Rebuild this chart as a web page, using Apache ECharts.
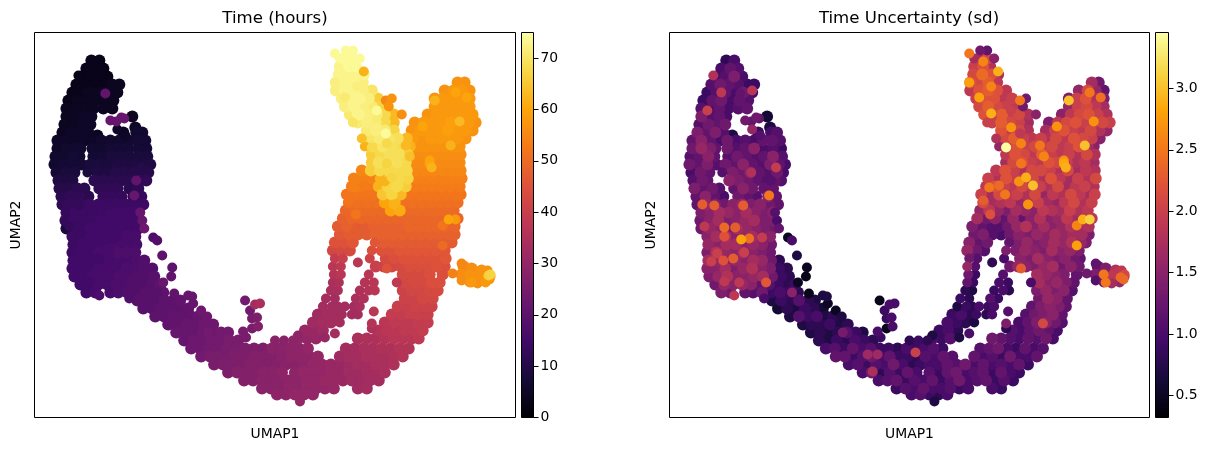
<!DOCTYPE html>
<html>
<head>
<meta charset="utf-8">
<style>html,body{margin:0;padding:0;background:#fff}#chart{width:1209px;height:451px}</style>
<script src="https://cdn.jsdelivr.net/npm/echarts@6/dist/echarts.min.js"></script>
</head>
<body>
<div id="chart"></div>
<script>
// Embedding of single cells. Every row: UMAP1, UMAP2, time (hours), time uncertainty (sd).
const earlyLobe = [
[57,357,3,.8],[65,357,3,1],
[52,349,3,1],[61,349,3,1.2],[69,349,3,1.1],
[47,341,3,1],[56,341,3,1.1],[65,341,3,1.4],[73,341,3,1],
[42,333,3,1.1],[51,333,3,1.3],[60,333,3,1.2],[69,333,3,1.1],[78,333,4,.9],[85,333,4,.9],
[38,325,3,.9],[47,325,3,1.1],[56,325,4,1.2],[65,325,4,1],[74,325,4,1.3],[83,325,4,1],
[34,317,3,.9],[43,317,4,1.2],[52,317,4,1.3],[61,317,4,1],[70,317,4,1.2],[79,317,4,1.1],
[32,309,4,1.1],[41,309,4,1],[50,309,4,1.2],[59,309,4,1],[69,309,4,1.1],[78,309,4,1.2],
[32,301,4,1.4],[41,301,4,1.1],[50,301,5,1.2],[57,301,5,1],[98,301,4,.6],
[30,293,4,1.1],[39,293,4,1.3],[48,293,5,1.2],[56,293,5,1.3],[101,290,5,.7],
[28,285,4,1.4],[37,285,5,1.2],[46,285,5,1.4],[54,285,5,1.1],[89,285,4,.9],[102,285,6,1],[108,285,6,1.1],[63,282,4,.7],
[23,277,5,1.2],[32,277,5,1.5],[41,277,5,1.2],[50,277,5,1],[58,277,5,1.3],[67,277,6,1],[76,277,6,1.1],[85,277,6,1],[94,277,6,1.2],[103,277,7,1.2],[111,277,7,1.1],
[23,269,5,1.3],[32,269,6,1.6],[41,269,6,1.4],[46,269,6,1.2],[58,269,6,1.3],[67,269,6,1.1],[76,269,7,1.2],[85,269,7,1.5],[94,269,7,1],[104,269,7,1.1],[112,269,7,.9],
[21,261,6,1.1],[30,261,6,1.2],[39,261,7,1.5],[45,261,6,1.2],[59,261,7,1.1],[68,261,7,1.3],[77,261,8,1.2],[86,261,8,1.1],[95,261,8,1.2],[104,261,8,1.5],[113,261,8,1.1],
[20,253,6,1.3],[29,253,7,1.2],[38,253,7,1.4],[47,253,7,1.1],[56,253,8,1.3],[65,253,8,1.2],[74,253,8,1.5],[83,253,9,1.2],[92,253,9,1.1],[101,253,9,1.4],[110,253,9,1.2],[116,253,9,1],
[22,245,7,1],[31,245,8,1.3],[40,245,8,1.2],[63,245,9,1.4],[72,245,9,1.3],[81,245,10,1.5],[90,245,10,1.2],[99,245,10,1.1],[108,245,10,1.3],[114,245,10,1],
[24,237,9,1.1],[33,237,9,1.3],[38,237,9,1.2],[60,237,11,1.5],[69,237,11,1.4],[78,237,11,1.3],[87,237,11,1.2],[97,237,11,1.1],[106,237,12,1.2],[112,237,12,1.1],
[25,229,10,1.4],[34,229,10,1.2],[43,229,11,1.3],[50,229,11,1.1],[65,229,12,1.2],[74,229,12,1.5],[83,229,12,1.3],[95,229,11,1.2],[104,229,12,1.2],
[27,221,11,1.2],[36,221,12,1.5],[45,221,12,1.2],[54,221,11,1],[69,221,13,1.3],[78,221,13,1.2],[87,221,13,1.1],[99,221,12,1.5],[107,221,13,1.2]
];
const midCluster = [
[28,213,12,1.2],[37,213,13,1.6],[46,213,13,1.4],[55,213,14,1.3],[64,213,14,1.5],[73,213,14,1.6],[82,213,14,1.4],[91,213,14,1.5],[100,213,14,1.3],[109,213,14,1.2],
[32,205,13,1.4],[41,205,14,1.5],[50,205,14,1.7],[59,205,14,1.6],[68,205,14,1.5],[77,205,15,1.7],[86,205,15,1.5],[95,205,15,1.4],[104,205,15,1.5],
[31,197,13,1.3],[40,197,14,1.5],[49,197,14,1.7],[58,197,14,1.4],[67,197,15,1.5],[76,197,15,1.6],[85,197,15,1.7],[94,197,15,1.4],[103,197,15,1.4],
[32,189,8,1.3],[41,189,14,1.6],[50,189,14,1.5],[59,189,15,1.4],[68,189,15,1.7],[77,189,15,1.6],[86,189,15,1.5],[95,189,15,1.4],[104,189,15,1.3],
[38,181,14,1.5],[47,181,14,1.7],[56,181,15,1.8],[65,181,15,1.5],[74,181,15,1.6],[83,181,15,1.7],[92,181,16,1.4],[101,181,16,1.5],
[39,173,14,1.6],[48,173,15,1.5],[57,173,15,1.7],[66,173,15,1.7],[75,173,16,1.5],[84,173,16,1.6],[93,173,16,1.5],[102,173,16,1.3],
[38,165,14,1.4],[47,165,15,1.8],[56,165,15,1.6],[65,165,16,1.5],[74,165,16,1.7],[83,165,17,1.5],[92,165,17,1.4],[101,165,17,1.3],
[39,157,15,1.7],[48,157,15,1.6],[57,157,15,1.5],[66,157,15,1.6],[75,157,16,1.5],[84,157,16,1.7],[93,157,16,1.6],[102,157,17,1.3],[110,157,18,.8],
[38,149,15,1.5],[47,149,15,1.5],[56,149,15,1.7],[65,149,16,1.4],[74,149,16,1.6],[83,149,16,1.8],[92,149,17,1.5],[101,149,17,1.4],[110,149,18,.9],[118,149,18,.8],
[40,141,15,1.4],[49,141,15,1.6],[58,141,16,1.8],[67,141,16,1.5],[76,141,16,1.5],[85,141,17,1.6],[94,141,17,1.7],[103,141,18,1.3],[112,141,18,.9],[120,141,19,.8],
[46,133,15,1.3],[55,133,15,1.6],[64,133,16,1.5],[73,133,16,1.6],[82,133,17,1.5],[91,133,17,1.2],[100,133,18,1.1],[109,133,18,.9],[118,133,19,.8],[126,133,20,.9],
[52,125,15,1.4],[61,125,16,1.3],[76,125,16,1.2],[84,125,17,1.1],[93,125,18,1.3],[102,125,18,.9],[111,125,19,1],[120,125,19,.9],[129,125,20,.8]
];
const lowerArm = [
[103,117,19,.7],[112,117,19,.9],[121,117,19,.8],[130,117,20,1.1],[139,117,20,.8],[146,117,21,.7],
[109,109,19,.6],[118,109,19,.8],[127,109,20,.7],[136,109,20,.9],[145,109,20,.8],[154,109,21,.6],
[121,101,20,.7],[130,101,20,1.1],[139,101,21,.9],[148,101,21,1],[157,101,21,.7],[164,101,22,.8],
[134,93,21,.7],[143,93,21,.8],[152,93,22,.8],[161,93,22,.9],[170,93,23,.7],[179,93,23,.8],
[142,85,22,.7],[151,85,22,.8],[160,85,22,.7],[169,85,23,.8],[178,85,23,1.1],[187,85,24,.9],[194,85,24,.7],
[150,77,22,.8],[159,77,23,.7],[168,77,23,.9],[177,77,24,.8],[186,77,24,1],[195,77,25,.9],[204,77,25,.8],
[157,69,23,1],[166,69,23,1.1],[175,69,24,.9],[184,69,24,1.2],[193,69,25,1],[202,69,25,1.1],[211,69,26,.9],[220,69,26,.9],[229,69,26,.8],
[167,61,24,1.2],[176,61,25,1.2],[185,61,25,.9],[194,61,25,1.1],[203,61,26,1.3],[212,61,26,1],[221,61,27,1.2],[230,61,27,.9],[239,61,27,.9],[248,61,28,.8],
[180,53,25,1],[189,53,26,1.1],[198,53,26,.9],[207,53,26,1.1],[216,53,27,1],[225,53,27,1.3],[234,53,27,1],[243,53,27,.8],[252,53,28,.9],[261,53,28,1]
];
const bottomBand = [
[238,69,28,1],[247,69,28,.9],[256,69,29,1],[265,69,29,1.1],[274,69,30,.9],
[312,69,33,1.1],[321,69,33,1.2],[330,69,34,1.3],[339,69,34,1],[348,69,35,.9],[357,69,35,1.2],[366,69,36,1],[375,69,36,1.1],
[257,61,29,1.1],[266,61,29,1],[275,61,29,1.2],[284,61,30,1.1],[306,61,32,1.2],[315,61,33,1],[324,61,33,1.1],[333,61,34,.9],[342,61,34,1.3],[351,61,34,1],[360,61,35,1],[369,61,36,1.2],
[270,53,29,1],[279,53,30,1.2],[288,53,30,1.1],[297,53,31,1.3],[306,53,31,1],[315,53,32,1.2],[324,53,33,1],[333,53,33,1.1],[342,53,34,1],[351,53,34,1.2],[360,53,35,.9],
[194,45,26,1],[203,45,27,1.3],[212,45,27,.8],[221,45,27,1.1],[230,45,28,.9],[239,45,28,1.2],[248,45,29,1],[261,45,29,1.1],[270,45,30,.9],[279,45,30,1.2],[288,45,30,1.3],[297,45,31,1],[306,45,31,1.1],[315,45,32,1.2],[324,45,32,.9],[333,45,33,1.2],[342,45,33,1],[351,45,34,.9],
[210,37,27,1],[219,37,27,1.1],[228,37,28,1.2],[237,37,28,.9],[246,37,28,1.1],[255,37,29,1],[264,37,29,1.2],[273,37,30,.9],[282,37,30,1.1],[291,37,31,1.3],[300,37,31,1],[309,37,31,1.1],[318,37,32,1.2],[327,37,32,.9],[336,37,33,1.1],[345,37,33,.9],
[228,29,28,.9],[237,29,28,1.1],[246,29,28,1],[255,29,29,1.2],[264,29,29,1],[273,29,30,1],[282,29,30,1.1],[291,29,30,.9],[300,29,31,1],[324,29,32,1],[333,29,33,.9],
[243,23,29,1],[252,23,29,1.1],[261,23,30,.9],[270,23,30,.8],[279,23,30,1],
[264,79,30,1],[273,79,30,.9],[282,79,31,1.1],[324,79,34,1.3],[333,79,35,1.2],[342,79,35,1.1],[351,79,36,1],[360,79,37,1.2],[369,79,37,1.1],[378,79,37,1.3],[385,79,38,1],
[271,87,31,.9],[280,87,31,1],[289,87,32,.8],[344,87,36,1.1],[353,87,37,1],[362,87,37,1.2],[371,87,38,1.3],[380,87,38,1.2],[389,87,39,1],
[279,95,32,1],[288,95,33,.9],[297,95,33,.8],[351,95,37,1],[360,95,38,1.2],[369,95,38,1.4],[378,95,39,1.5],[387,95,39,1.3],[394,95,39,1.1],
[284,103,32,.9],[293,103,33,1],[302,103,33,.8],[358,103,39,1.1],[367,103,39,1.3],[376,103,40,1.4],[385,103,40,1.5],[394,103,40,1.2],
[364,111,40,1.2],[373,111,40,1.4],[382,111,41,1.5],[391,111,41,1.4],[398,111,41,1.2],
[371,119,41,1.3],[380,119,41,1.6],[389,119,42,1.5],[399,119,42,1.2],
[369,127,41,1.4],[378,127,42,1.6],[387,127,42,1.4],[396,127,43,1.5],[404,127,43,1.1],
[371,135,42,1.7],[380,135,43,1.5],[389,135,43,1.6],[398,135,44,1.4],[406,135,44,1.2]
];
const upperFan = [
[369,143,43,1.7],[378,143,43,1.6],[387,143,43,1.5],[396,143,44,1.4],[409,143,44,1.2],
[342,151,40,1.3],[350,151,41,1.6],[358,151,42,1.5],[367,151,43,1.4],[376,151,44,1.6],[385,151,44,1.7],[394,151,44,1.3],[403,151,45,1.5],[411,151,44,1.3],
[352,159,43,1.5],[360,159,44,1.4],[370,159,45,1.7],[379,159,45,1.5],[388,159,45,1.4],[397,159,45,1.5],[406,159,45,1.3],[412,159,46,1.2],
[299,167,42,1.6],[308,167,43,1.3],[316,167,43,1.1],[348,167,45,1.4],[357,167,45,1.6],[366,167,46,1.5],[375,167,46,1.4],[384,167,46,1.7],[393,167,46,1.5],[402,167,46,1.6],[411,167,46,1.4],
[301,175,45,1.5],[310,175,45,1.2],[319,175,46,1.3],[350,175,47,1.4],[359,175,47,1.6],[368,175,47,1.4],[377,175,47,1.5],[386,175,47,1.7],[395,175,47,1.6],[404,175,47,1.8],[413,175,47,1.6],[418,175,47,1.4],
[306,183,46,1.3],[315,183,47,1.4],[324,183,47,1.1],[333,183,47,1],[342,183,48,1.3],[351,183,48,1.5],[360,183,48,1.4],[369,183,48,1.6],[378,183,48,1.5],[387,183,48,1.7],[396,183,48,1.6],[405,183,48,1.7],[414,183,48,1.7],[421,183,48,1.4],
[304,191,47,1.4],[313,191,48,1.2],[322,191,47,1.1],[331,191,47,1.1],[340,191,48,1.3],[349,191,48,1.6],[358,191,48,1.8],[367,191,48,1.5],[376,191,49,1.7],[385,191,49,1.5],[394,191,49,1.6],[403,191,49,1.8],[412,191,49,1.7],[421,191,49,1.8],
[309,199,48,1.7],[318,199,49,1.3],[327,199,49,1.5],[336,199,49,1.2],[345,199,49,1.6],[354,199,49,1.2],[363,199,49,1.5],[372,199,49,1.8],[381,199,49,1.5],[390,199,49,1.6],[399,199,49,1.9],[408,199,49,1.7],[417,199,49,1.5],[424,199,49,1.9],
[312,207,49,1.6],[321,207,50,1.9],[330,207,50,1.6],[339,207,50,1.4],[348,207,50,1.7],[357,207,60,1.6],[366,207,61,1.5],[375,207,50,1.9],[384,207,50,1.8],[393,207,50,1.7],[402,207,50,2],[411,207,50,1.8],[420,207,50,1.9],
[315,215,51,2.1],[324,215,51,1.7],[333,215,51,1.8],[342,215,51,1.9],[351,215,60,1.6],[361,215,62,1.8],[370,215,51,2],[379,215,51,1.7],[388,215,51,1.6],[397,215,51,1.9],[406,215,51,2.1],[415,215,51,1.8],[424,215,51,2],
[313,223,52,2],[322,223,52,1.7],[331,223,52,2.1],[340,223,52,1.9],[349,223,65,2],[358,223,67,1.8],[367,223,63,2.1],[376,223,52,1.6],[385,223,52,1.9],[394,223,52,1.8],[403,223,52,2.1],[412,223,52,1.9],[421,223,52,1.7],[427,223,52,2],
[318,231,53,1.9],[327,231,53,2.2],[336,231,53,2],[345,231,62,1.9],[354,231,67,2.1],[363,231,68,1.9],[372,231,66,2],[381,231,53,1.8],[390,231,53,2.1],[399,231,53,1.7],[408,231,53,1.9],[417,231,53,2],[426,231,53,1.8],
[320,239,54,2],[329,239,54,1.8],[338,239,54,2.2],[347,239,62,2],[356,239,67,1.9],[365,239,68,2.1],[374,239,67,1.8],[383,239,54,2.2],[392,239,54,1.9],[401,239,54,1.7],[410,239,54,2],[419,239,54,1.8],[428,239,54,2.1],
[328,247,55,1.9],[337,247,66,2.2],[346,247,68,2],[355,247,68,1.8],[364,247,68,2.1],[373,247,68,2.1],[382,247,55,2],[391,247,55,1.8],[400,247,55,2.1],[409,247,55,1.7],[418,247,55,1.9],[427,247,55,1.8],
[338,255,66,1.7],[345,255,69,2.1],[354,255,69,2.2],[363,255,69,2],[372,255,68,1.9],[381,255,55.5,2.2],[390,255,55.5,2.1],[399,255,55.5,2],[408,255,55.5,1.8],[417,255,55.5,1.9],[426,255,55.5,1.7],
[338,263,66,1.9],[347,263,68,2.2],[356,263,69,2.1],[365,263,69,1.9],[374,263,66,2.3],[383,263,56,2],[392,263,56,1.9],[401,263,56,2],[410,263,56,1.8],[419,263,56,2.1],[427,263,56,1.8],
[340,271,68,2],[349,271,70,2.2],[358,271,69,2],[367,271,68,2.1],[376,271,62,2],[384,271,57,2.1],[393,271,57,1.9],[402,271,57,2],[411,271,57,2.2],[420,271,57,1.7],[426,271,57,1.5],
[337,279,70,2.1],[346,279,71,2.3],[355,279,70,2],[364,279,69,1.9],[373,279,63,2],[379,279,58,1.8],[388,279,57,2.1],[397,279,58,1.9],[406,279,58,2.2],[415,279,58,2.1],[424,279,58,2],[432,279,57,1.5],
[333,287,71,2.2],[342,287,72,1.9],[351,287,71,2.1],[360,287,67,1.8],[378,287,57,1.7],[387,287,58,2],[396,287,58,2.2],[405,287,58,2],[414,287,59,1.9],[423,287,58,2.1],[432,287,58,1.8],[439,287,57,1.6],
[324,295,71,2],[333,295,72,2.3],[342,295,71,2.1],[351,295,68,2],[360,295,63,1.7],[381,295,57,1.4],[390,295,58,1.9],[399,295,58,2.1],[408,295,58,2.2],[417,295,59,2],[426,295,58,2],[435,295,58,2.1],[442,295,57,2],
[316,303,71,2.2],[325,303,73,2],[334,303,72,2.3],[343,303,71,2],[351,303,68,2.1],[360,303,63,1.8],[394,303,57,1.5],[403,303,58,1.9],[412,303,58,2.1],[421,303,58,2.2],[430,303,58,2],[439,303,58,1.8],
[311,311,72,2.1],[320,311,73,2.3],[329,311,72,2.1],[338,311,71,2],[347,311,67,1.9],[401,311,58,1.6],[410,311,58,2],[419,311,58,2.1],[428,311,58,1.9],[436,311,58,1.7],
[308,319,72,2],[317,319,73,2.2],[326,319,73,2.2],[335,319,72,1.9],[344,319,66,2],[401,319,57,1.4],[409,319,58,2],[418,319,58,2.2],[427,319,58,1.8],[436,319,58,1.4],
[302,327,72,1.9],[311,327,73,2.2],[320,327,73,2.3],[329,327,72,2.2],[338,327,70,1.9],[411,327,57,1.6],[420,327,58,2.1],[428,327,58,1.6],[436,327,57,1.2],
[302,335,72,2.2],[311,335,73,2.1],[320,335,73,2.3],[329,335,72,1.9],[424,335,57,1.7],[431,335,57,1.3],
[305,343,73,2.1],[314,343,73,2.4],[323,343,73,2.2],[330,343,73,1.7],
[306,351,73,2],[315,351,74,2.2],[322,351,74,1.8],
[311,359,74,1.7],[319,359,74,2.1]
];
const tail = [
[430,151,55,1.2],[438,149,56,1.4],[448,147,57,1.8],[428,143,56,1.4],[437,143,56,1.5],[446,142,57,1.9],[452,145,57,1.9],[438,137,57,1.3],[445,137,57,1.7]
];
// Narrow strands and lone cells, drawn at the true marker size on top of the dense fill.
const looseCells = [
[119,180,17,.5],[123,177,18,1],[128,162,20,.7],[138,150,20,.5],[137,141,21,.45],[129,135,22,.5],[140,124,21,.45],
[154,122,22,.7],[158,121,22,.7],[159,114,22,.5],[167,107,23,.5],[173,101,23,.7],
[211,117,24,.45],[226,114,34,1],[221,113,33,1],[216,107,24,.9],[223,100,26,1],[218,99,25,.9],[224,91,27,1],[218,89,25,.45],[209,86,25,1],[212,80,25,.9],
[241,77,28,.8],[250,77,28,.9],[259,77,29,.8],[264,82,29,.7],[95,119,18,1],[53,245,8,1.1],[266,16,30,.7],
[291,80,31,.7],[301,84,33,1],[338,89,35,.8],[338,94,36,1.4],[340,106,37,1.1],[363,135,38,1],[324,155,37,.8],[336,159,41,1],
[306,95,33,.7],[308,103,33,.9],[318,103,33,.8],[324,103,33,1],[311,111,33,1],[320,111,33,.9],[326,111,34,1],[322,119,34,1.1],[330,119,35,.9],
[326,127,35,.9],[335,127,36,1],[341,127,37,.8],[331,135,36,1],[340,135,37,.9],[335,143,37,1.1],[338,167,44,1.4],[341,175,46,1.2],
[289,111,33,.7],[298,111,33,.9],[304,111,33,.8],[292,119,33,.9],[301,119,33,.8],[297,127,34,.8],[304,127,34,.7],[299,135,34,1.2],[305,135,35,.9],
[300,143,36,1.3],[307,143,37,.9],[299,151,37,1.6],[307,151,38,1.1],[301,159,39,1.3],[309,159,40,1.1],
[328,279,64,1.8],[331,271,62,1.6],[319,295,70,2],[368,303,56,1.5],[355,311,57,1.3],[358,319,57,1.3],
[428,137,56,1.1],[419,144,54,1.3],[428,154,55,1.2],[436,135,57,1.3],[444,134,57,1.7],[452,135,58,1.6],[454,147,57,1.9],[457,141,58,1.8],
[312,367,74,1.3],[319,367,74,1.2],[326,359,74,1.5],[306,359,74,1.7]
];
// Cells that stand out from their neighbours on one of the two colour scales.
const standouts = [
[71,324,21,1.2],[87,300,22,1.3],[76,297,22,1.3],[82,296,22,1.2],[90,299,22,1.2],[83,288,5,1.6],[91,282,5,1.1],[44,342,3,1.8],[52,325,4,1.9],[83,327,4,1.85],[38,307,4,2],
[107,250,10,1.95],[82,245,10,1.8],[102,237,21,1.1],[33,213,13,2.3],[45,212,13,2.3],[74,212,14,2.3],[100,222,22,2.5],[106,205,22,1.1],[108,197,22,1],[110,189,23,1.2],
[55,190,15,2.4],[66,190,15,2.3],[35,191,13,1.9],[72,178,15,2.8],[80,179,15,2.45],[55,181,15,2.2],[93,180,16,1.95],
[64,159,15,2.3],[54,157,15,2.2],[42,156,15,2],[48,164,15,2],[75,165,16,2],[97,135,18,2.25],[65,122,17,1.9],[55,136,15,1.9],[70,135,16,1.9],
[123,125,19,1.5],[174,85,24,1.35],[199,63,26,1.65],[209,63,26,1.65],[204,46,27,1.75],[247,65,28,2],
[301,364,74,2.5],[315,356,74,2.6],[301,335,72,2.8],[330,346,62,2.9],[311,320,71,2.8],[323,304,73,2.9],[323,331,72,2.6],
[352,317,55,2.5],[343,290,72,2.7],[353,274,68,2.6],[352,284,74.5,1.9],[343,307,74,2],[372,272,63,2.5],[338,270,68,3.45],[376,261,64,2.6],[353,254,67,2.5],
[358,240,67,2.9],[365,232,68,3],[351,236,62,2.7],[396,254,60,2.85],[396,257,60,2.7],[398,250,62,2.9],
[321,230,54,2.5],[331,232,53,2.4],[337,223,52,2.5],[315,217,52,2.3],[322,203,52,2.2],[360,213,62,2.7],[415,198,60,2.9],[422,198,58,3.1],
[401,317,62,3],[417,272,62,3],[389,291,60,2.7],[426,296,63,2.7],[422,325,60,2.5],[433,320,60,2.45],
[409,192,52,2.6],[409,172,50,2.8],[353,149,45,2.3],[375,94,38,2.1],
[436,143,57,2.5],[438,135,58,2.5],[453,140,58,2.4],[456,138,58,2.4],[455,142,66,2],[457,143,67,2.1]
];
const denseCells = [...earlyLobe, ...midCluster, ...lowerArm, ...bottomBand, ...upperFan, ...tail];
const topCells = [...looseCells, ...standouts];

const inferno = ['#000004','#160b39','#420a68','#6a176e','#932667','#bc3754','#dd513a','#f37819','#fca50a','#f6d746','#fcffa4'];
const hoursRange = [0, 75];
const sdRange = [0.32, 3.456];
const hoursTicks = [0, 10, 20, 30, 40, 50, 60, 70];
const sdTicks = [0.5, 1, 1.5, 2, 2.5, 3];
const embeddingRange = { x: [0, 482], y: [0, 385] };

// Cells with larger values are painted last so they sit on top.
const byColumn = (rows, col) => rows.slice().sort((a, b) => a[col] - b[col]).map(c => [c[0], c[1], c[col]]);

const grids = [
  { left: 34.5, top: 32.5, width: 481, height: 385 },
  { left: 669.5, top: 32.5, width: 480, height: 385 },
  { left: 521.5, top: 32.5, width: 12, height: 385 },
  { left: 1155.5, top: 32.5, width: 13, height: 385 }
];
const titleStyle = { color: '#000', fontFamily: 'DejaVu Sans', fontSize: 16.6, fontWeight: 'normal' };
const nameStyle = { color: '#000', fontFamily: 'DejaVu Sans', fontSize: 13.9 };

const embeddingX = i => ({ gridIndex: i, type: 'value', min: embeddingRange.x[0], max: embeddingRange.x[1], name: 'UMAP1',
  nameLocation: 'middle', nameGap: 10, nameTextStyle: nameStyle, axisLine: { show: false }, axisTick: { show: false }, axisLabel: { show: false }, splitLine: { show: false } });
const embeddingY = i => ({ gridIndex: i, type: 'value', min: embeddingRange.y[0], max: embeddingRange.y[1], name: 'UMAP2',
  nameLocation: 'middle', nameGap: 11, nameTextStyle: nameStyle, axisLine: { show: false }, axisTick: { show: false }, axisLabel: { show: false }, splitLine: { show: false } });
const barX = i => ({ gridIndex: i, type: 'category', data: [''], show: false });
const barY = (i, range, ticks, fmt) => ({ gridIndex: i, type: 'value', position: 'right', min: range[0], max: range[1],
  axisLine: { show: false }, splitLine: { show: false },
  axisTick: { show: true, length: 5, inside: false, customValues: ticks, lineStyle: { color: '#000', width: 1 } },
  axisLabel: { show: true, margin: 7, color: '#000', fontFamily: 'DejaVu Sans', fontSize: 13.9, customValues: ticks, formatter: fmt, verticalAlignMinLabel: 'middle', verticalAlignMaxLabel: 'middle' } });

const gradient = () => new echarts.graphic.LinearGradient(0, 1, 0, 0, inferno.map((color, i) => ({ offset: i / (inferno.length - 1), color })));
const cellSeries = (i, rows, col, size) => ({ type: 'scatter', xAxisIndex: i, yAxisIndex: i, data: byColumn(rows, col), symbolSize: size, animation: false, silent: true, progressive: 0, large: false, itemStyle: { opacity: 1 } });
const colourBar = (i, range) => ({ type: 'bar', xAxisIndex: i, yAxisIndex: i, data: [range[1]], barWidth: '100%', animation: false, silent: true, itemStyle: { color: gradient() } });

const chart = echarts.init(document.getElementById('chart'), null, { renderer: 'canvas' });
chart.setOption({
  backgroundColor: '#fff',
  animation: false,
  title: [
    { text: 'Time (hours)', left: 270, top: 5, textAlign: 'center', textStyle: titleStyle },
    { text: 'Time Uncertainty (sd)', left: 904, top: 5, textAlign: 'center', textStyle: titleStyle }
  ],
  grid: grids.map(g => ({ ...g, show: true, borderColor: '#000', borderWidth: 1, backgroundColor: 'transparent', z: 10 })),
  xAxis: [embeddingX(0), embeddingX(1), barX(2), barX(3)],
  yAxis: [embeddingY(0), embeddingY(1), barY(2, hoursRange, hoursTicks, v => String(v)), barY(3, sdRange, sdTicks, v => v.toFixed(1))],
  visualMap: [
    { show: false, type: 'continuous', seriesIndex: [0, 1], dimension: 2, min: hoursRange[0], max: hoursRange[1], inRange: { color: inferno } },
    { show: false, type: 'continuous', seriesIndex: [2, 3], dimension: 2, min: sdRange[0], max: sdRange[1], inRange: { color: inferno } }
  ],
  series: [
    cellSeries(0, denseCells, 2, 12), cellSeries(0, topCells, 2, 10),
    cellSeries(1, denseCells, 3, 12), cellSeries(1, topCells, 3, 10),
    colourBar(2, hoursRange), colourBar(3, sdRange)
  ]
});
</script>
</body>
</html>
